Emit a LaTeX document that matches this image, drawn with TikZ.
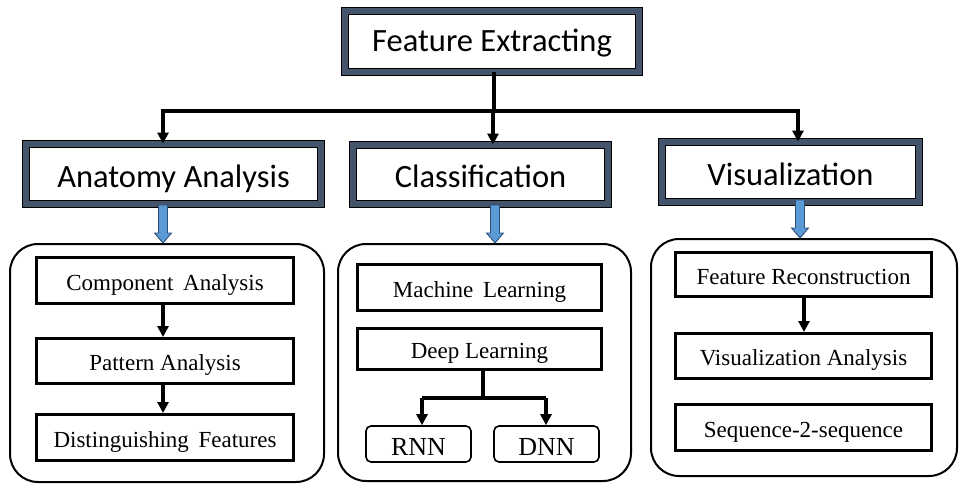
\documentclass[tikz,border=0pt]{standalone}
\usepackage{fontspec}
\setmainfont{Liberation Serif}
\newfontfamily\headfont{Carlito}
\usetikzlibrary{arrows.meta,calc}

\definecolor{slate}{HTML}{44546A}
\definecolor{skyfill}{HTML}{5B9BD5}
\definecolor{skyline}{HTML}{2F4F7A}

\tikzset{
  headbox/.style={draw=black, double=slate, double distance=6pt, line width=0.9pt,
    fill=white, inner sep=0pt, font=\headfont\fontsize{32.5}{36}\selectfont,
    text height=26pt, text depth=0pt},
  group/.style={draw=black, line width=2pt, rounded corners=28pt, inner sep=0pt},
  itembox/.style={draw=black, line width=3pt, fill=white, inner sep=0pt,
    font=\fontsize{23}{26}\selectfont, text height=19pt, text depth=0pt},
  leafbox/.style={draw=black, line width=1.6pt, rounded corners=5pt, fill=white,
    inner sep=0pt, font=\fontsize{26}{28}\selectfont, text height=22pt, text depth=0pt},
  link/.style={draw=black, line width=3.2pt,
    -{Triangle[length=11pt,width=11pt]}},
  plain/.style={draw=black, line width=3.2pt},
  blockdown/.pic={
    \draw[fill=skyfill, draw=skyline, line width=0.9pt, line join=miter]
      (-4.5,0) -- (4.5,0) -- (4.5,28) -- (8.5,28) -- (0,38) -- (-8.5,28)
      -- (-4.5,28) -- cycle;
  }
}

\begin{document}
\begin{tikzpicture}[x=1pt, y=-1pt]
  \useasboundingbox (0,0) rectangle (959,485);

  % top level
  \node[headbox, text height=19pt, minimum width=294pt, minimum height=61pt] (fe) at (492,41.5) {Feature Extracting};

  % second level
  \node[headbox, minimum width=295pt, minimum height=60pt] (ana) at (173.5,174) {Anatomy Analysis};
  \node[headbox, minimum width=255pt, minimum height=59pt] (cls) at (480.5,174.5) {Classification};
  \node[headbox, minimum width=257pt, minimum height=60pt] (vis) at (790.5,172) {Visualization};

  % fan-out from the top box
  \coordinate (hub) at (494,111);
  \coordinate (hl) at (163,111);
  \coordinate (hm) at (493,111);
  \coordinate (hr) at (798,111);
  \draw[plain] (fe.south -| hub) -- (hub);
  \draw[plain, line cap=rect] (hl) -- (hr);
  \draw[link] (hl) -- (hl |- ana.north);
  \draw[link] (hm) -- (hm |- cls.north);
  \draw[link] (hr) -- (hr |- vis.north);

  % group containers
  \node[group, minimum width=314pt, minimum height=238pt] (g1) at (167,363) {};
  \node[group, minimum width=293pt, minimum height=237pt] (g2) at (484.5,362.5) {};
  \node[group, minimum width=306pt, minimum height=237pt] (g3) at (804,357.5) {};

  % block arrows into the containers
  \pic at (163,205) {blockdown};
  \pic at (495,205) {blockdown};
  \pic at (800,200) {blockdown};

  % anatomy analysis steps
  \node[itembox, minimum width=257pt, minimum height=46pt] (ca) at (165,280.5) {Component \,Analysis};
  \node[itembox, minimum width=257pt, minimum height=45pt] (pa) at (165,361) {Pattern Analysis};
  \node[itembox, minimum width=257pt, minimum height=46pt] (df) at (165,437.5) {Distinguishing \,Features};
  \draw[link] (ca.south -| 163,0) -- (pa.north -| 163,0);
  \draw[link] (pa.south -| 163,0) -- (df.north -| 163,0);

  % classification methods
  \node[itembox, minimum width=244pt, minimum height=46pt] (ml) at (479.5,287.5) {Machine \,Learning};
  \node[itembox, minimum width=244pt, minimum height=41pt] (dl) at (479.5,349) {Deep Learning};
  \node[leafbox, minimum width=105pt, minimum height=36pt] (rnn) at (418.5,444) {RNN};
  \node[leafbox, minimum width=105pt, minimum height=36pt] (dnn) at (546.5,444) {DNN};
  \coordinate (split) at (483,398);
  \coordinate (sl) at (422,398);
  \coordinate (sr) at (546,398);
  \draw[plain] (dl.south -| split) -- (split);
  \draw[plain] (sl) -- (sr);
  \draw[link] (sl) -- (sl |- rnn.north);
  \draw[link] (sr) -- (sr |- dnn.north);

  % visualization steps
  \node[itembox, minimum width=256pt, minimum height=44pt] (fr) at (803.5,274.5) {Feature Reconstruction};
  \node[itembox, minimum width=256pt, minimum height=45pt] (va) at (803.5,356) {Visualization Analysis};
  \node[itembox, minimum width=256pt, minimum height=46pt] (ss) at (803.5,427.5) {Sequence-2-sequence};
  \draw[link] (fr.south -| 804,0) -- (va.north -| 804,0);
\end{tikzpicture}
\end{document}
